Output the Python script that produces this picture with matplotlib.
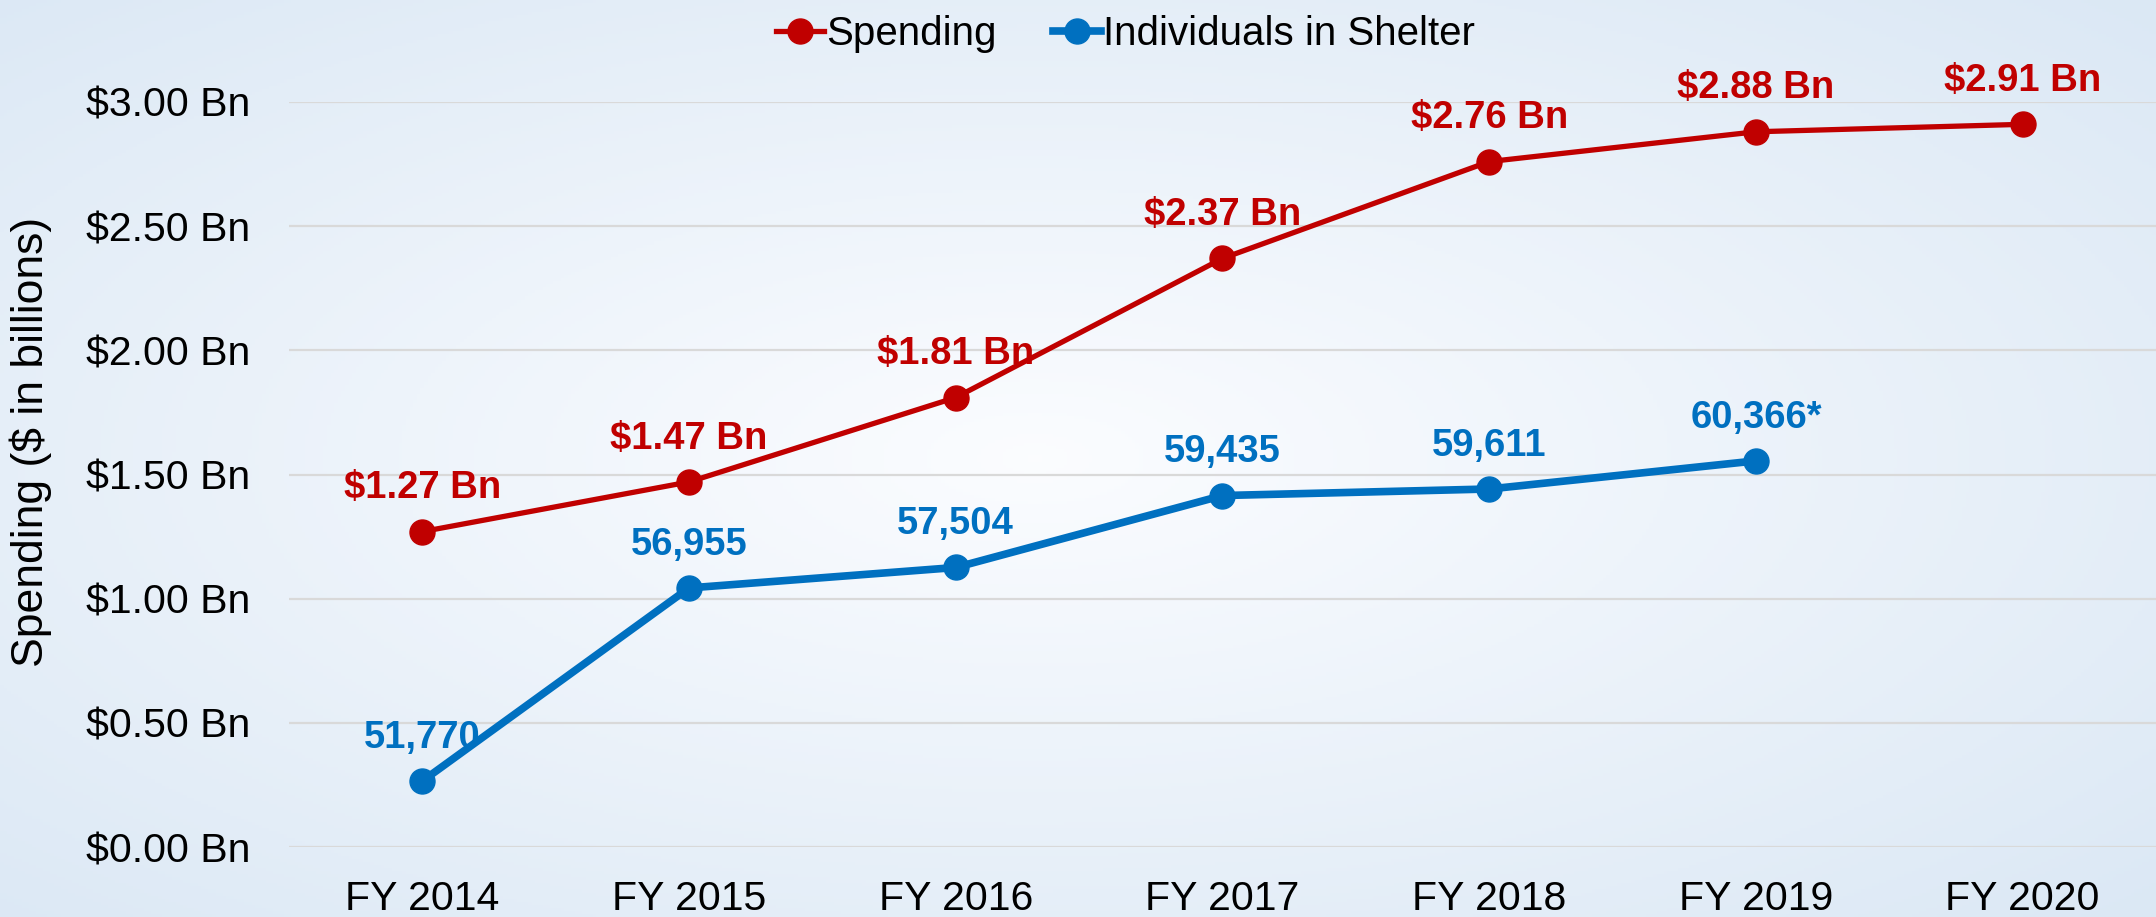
import matplotlib
matplotlib.use("Agg")
import matplotlib.pyplot as plt
import numpy as np
from matplotlib.lines import Line2D

years = ["FY 2014", "FY 2015", "FY 2016", "FY 2017", "FY 2018", "FY 2019", "FY 2020"]
spending = [1.27, 1.47, 1.81, 2.37, 2.76, 2.88, 2.91]
spending_labels = ["$1.27 Bn", "$1.47 Bn", "$1.81 Bn", "$2.37 Bn", "$2.76 Bn", "$2.88 Bn", "$2.91 Bn"]
shelter = [51770, 56955, 57504, 59435, 59611, 60366]
shelter_labels = ["51,770", "56,955", "57,504", "59,435", "59,611", "60,366*"]
yticks = [0.0, 0.5, 1.0, 1.5, 2.0, 2.5, 3.0]

red = "#c00000"
blue = "#0070c0"

plt.rcParams["font.family"] = ["Liberation Sans", "DejaVu Sans"]

fig = plt.figure(figsize=(21.56, 9.17), dpi=100)

# background radial gradient
bg = fig.add_axes([0, 0, 1, 1], zorder=-10)
yy, xx = np.mgrid[0:1:300j, 0:1:600j]
r = np.sqrt(((xx - 0.48) / 0.75) ** 2 + ((yy - 0.5) / 0.75) ** 2)
r = np.clip(r / 0.95, 0, 1)
c0 = np.array([0.985, 0.99, 1.0])
c1 = np.array([0.86, 0.91, 0.96])
img = c0[None, None, :] * (1 - r[..., None]) + c1[None, None, :] * r[..., None]
bg.imshow(img, aspect="auto", extent=[0, 1, 0, 1])
bg.axis("off")

ax = fig.add_axes([0.134, 0.0763, 0.866, 0.8125])
ax.patch.set_alpha(0)
x = np.arange(len(years))

ax.plot(x, spending, color=red, lw=3.8, marker="o", ms=18, zorder=3, clip_on=False)

# individuals drawn on a hidden secondary scale (50,000 - 70,000)
ax2 = ax.twinx()
ax2.set_ylim(50000, 70000)
ax2.plot(x[:len(shelter)], shelter, color=blue, lw=5.5, marker="o", ms=18, zorder=3, clip_on=False)
ax2.axis("off")

for xi, v, s in zip(x, spending, spending_labels):
    ax.annotate(s, (xi, v), xytext=(0, 24), textcoords="offset points",
                ha="center", va="baseline", color=red, fontsize=27.5, fontweight="bold", zorder=5)
for xi, v, s in zip(x, shelter, shelter_labels):
    ax2.annotate(s, (xi, v), xytext=(0, 24), textcoords="offset points",
                 ha="center", va="baseline", color=blue, fontsize=27.5, fontweight="bold", zorder=5)

ax.set_xlim(-0.5, 6.5)
ax.set_ylim(0, 3.0)
ax.set_yticks(yticks)
ax.set_yticklabels([f"${v:.2f} Bn" for v in yticks])
ax.set_xticks(x)
ax.set_xticklabels(years)
ax.tick_params(axis="both", length=0, labelsize=29.5)
ax.tick_params(axis="y", pad=28)
ax.tick_params(axis="x", pad=24)
ax.grid(axis="y", color="#d9d9d9", lw=1.6)
ax.set_axisbelow(True)
for sp in ax.spines.values():
    sp.set_visible(False)
ax.set_ylabel("Spending ($ in billions)", fontsize=32)
ax.yaxis.set_label_coords(-0.127, 0.544)

handles = [Line2D([0], [0], color=red, lw=3.8, marker="o", ms=18),
           Line2D([0], [0], color=blue, lw=5.5, marker="o", ms=18)]
fig.legend(handles, ["Spending", "Individuals in Shelter"], loc="center",
           bbox_to_anchor=(0.522, 0.963), ncol=2, frameon=False, fontsize=29,
           handlelength=1.2, handletextpad=0.05, columnspacing=1.4)

fig.savefig("out.png", dpi=100)
